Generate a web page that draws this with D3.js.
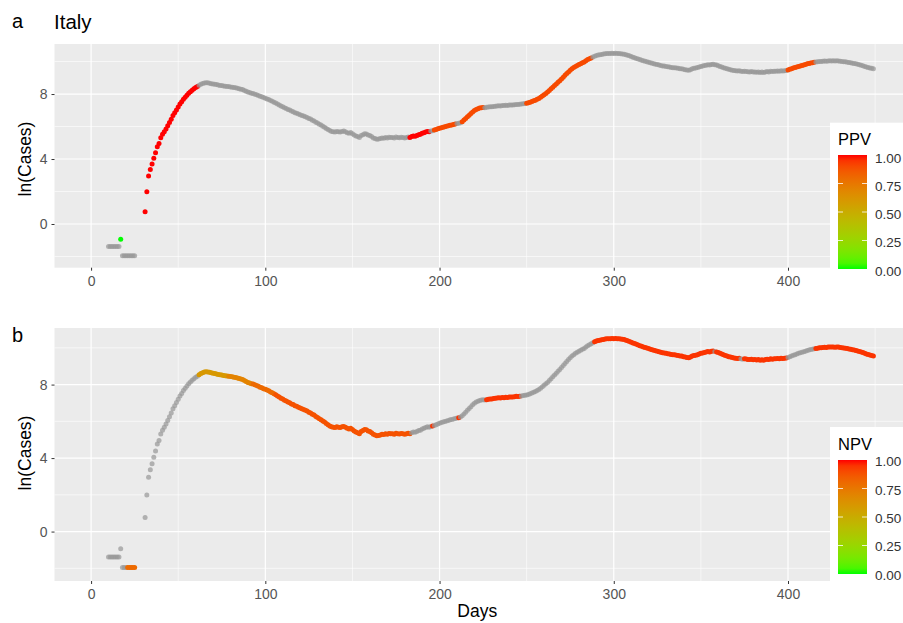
<!DOCTYPE html>
<html>
<head>
<meta charset="utf-8">
<script src="https://d3js.org/d3.v7.min.js"></script>
<style>
  body { margin: 0; background: #fff; }
  svg { font-family: "Liberation Sans", Arial, sans-serif; }
  .tick line { stroke: #333; }
  .tick text { fill: #555; font-size: 14px; }
  .domain { display: none; }
</style>
<title>Italy - ln(Cases) PPV / NPV</title>
</head>
<body>
<script>
// ln(Cases) per day, starting at day 10 (null = no point)
var startDay = 10;
var lnCases = [
  -1.39,-1.39,-1.39,-1.39,-1.39,-1.39,-1.39,-0.94,-1.95,-1.95,
  -1.95,-1.95,-1.95,-1.95,-1.95,-1.95,null,null,null,null,
  null,0.76,1.99,2.95,3.36,3.69,4.04,4.39,4.76,4.96,
  5.31,5.52,5.68,5.85,6.05,6.25,6.45,6.68,6.85,7.02,
  7.2,7.38,7.52,7.68,7.8,7.92,8.05,8.14,8.24,8.32,
  8.4,8.46,8.54,8.6,8.65,8.68,8.7,8.69,8.67,8.64,
  8.62,8.6,8.58,8.55,8.53,8.52,8.5,8.48,8.47,8.46,
  8.44,8.42,8.4,8.38,8.36,8.33,8.3,8.28,8.22,8.17,
  8.12,8.09,8.05,8.03,7.99,7.95,7.91,7.86,7.83,7.78,
  7.74,7.7,7.66,7.6,7.56,7.5,7.45,7.38,7.33,7.26,
  7.21,7.15,7.11,7.05,7.01,6.95,6.91,6.85,6.82,6.77,
  6.73,6.68,6.65,6.6,6.56,6.5,6.46,6.38,6.34,6.27,
  6.21,6.14,6.09,6.02,5.96,5.88,5.81,5.75,5.7,5.68,
  5.66,5.7,5.68,5.66,5.7,5.72,5.68,5.62,5.58,5.63,
  5.55,5.48,5.42,5.38,5.33,5.45,5.5,5.56,5.54,5.48,
  5.45,5.38,5.3,5.26,5.22,5.23,5.26,5.3,5.28,5.33,
  5.3,5.34,5.32,5.33,5.3,5.35,5.33,5.31,5.34,5.32,
  5.3,5.33,5.35,5.33,5.38,5.42,5.4,5.45,5.5,5.52,
  5.58,5.62,5.66,5.7,5.68,5.72,5.74,5.78,5.82,5.86,
  5.9,5.93,5.96,5.99,6.02,6.05,6.08,6.1,6.13,6.15,
  6.18,6.2,6.24,6.3,6.4,6.5,6.6,6.7,6.8,6.9,
  6.98,7.05,7.1,7.14,7.16,7.17,7.16,7.18,7.2,7.21,
  7.22,7.24,7.25,7.27,7.28,7.27,7.3,7.29,7.31,7.3,
  7.32,7.33,7.32,7.34,7.36,7.35,7.37,7.38,7.4,7.42,
  7.43,7.46,7.5,7.54,7.58,7.62,7.68,7.73,7.8,7.88,
  7.96,8.04,8.12,8.22,8.32,8.42,8.52,8.62,8.72,8.82,
  8.93,9.04,9.15,9.26,9.36,9.46,9.55,9.63,9.7,9.76,
  9.82,9.87,9.92,9.97,10.05,10.12,10.17,10.22,10.28,10.33,
  10.37,10.4,10.42,10.44,10.46,10.48,10.49,10.5,10.5,10.51,
  10.5,10.51,10.5,10.49,10.48,10.47,10.45,10.42,10.39,10.35,
  10.31,10.27,10.23,10.19,10.15,10.12,10.08,10.05,10.02,9.99,
  9.96,9.93,9.9,9.87,9.84,9.82,9.79,9.76,9.73,9.72,
  9.7,9.68,9.67,9.64,9.62,9.62,9.6,9.58,9.56,9.55,
  9.52,9.5,9.48,9.46,9.5,9.55,9.58,9.6,9.63,9.66,
  9.7,9.72,9.75,9.77,9.8,9.78,9.82,9.83,9.8,9.78,
  9.74,9.7,9.66,9.62,9.58,9.55,9.52,9.5,9.47,9.45,
  9.43,9.42,9.43,9.4,9.38,9.41,9.39,9.37,9.36,9.38,
  9.35,9.36,9.34,9.36,9.33,9.35,9.33,9.36,9.38,9.36,
  9.4,9.38,9.41,9.4,9.42,9.41,9.43,9.42,9.44,9.45,
  9.48,9.52,9.56,9.6,9.63,9.66,9.7,9.73,9.76,9.79,
  9.82,9.86,9.88,9.91,9.93,9.95,9.97,9.98,10.0,10.01,
  10.02,10.03,10.02,10.04,10.05,10.04,10.05,10.03,10.05,10.04,
  10.02,10.01,9.99,9.98,9.96,9.94,9.92,9.9,9.88,9.86,
  9.83,9.8,9.77,9.74,9.7,9.67,9.64,9.61,9.58,9.55
];

// [first day, last day, value]; days outside any run are NA (grey)
var ppvRuns = [
  [17, 17, 0.0], [31, 61, 1.0], [183, 194, 1.0], [197, 209, 0.9],
  [213, 225, 0.9], [250, 287, 0.9], [400, 415, 0.9]
];
var npvRuns = [
  [21, 25, 0.8], [62, 78, 0.6], [79, 92, 0.7], [93, 105, 0.8],
  [106, 183, 0.88], [196, 196, 0.95], [211, 211, 0.95], [227, 246, 0.95],
  [289, 357, 0.95], [359, 372, 0.95], [375, 399, 0.95], [416, 449, 0.95]
];

var xTicks = [0, 100, 200, 300, 400];
var xMinor = [50, 150, 250, 350, 450];
var yTicks = [0, 4, 8];
var yMinor = [-2, 2, 6, 10];
var legendTicks = [0, 0.25, 0.5, 0.75, 1];

var points = [];
lnCases.forEach(function(v, i) {
  if (v !== null) points.push({day: startDay + i, v: v});
});

function runValue(runs, day) {
  for (var i = 0; i < runs.length; i++) {
    if (day >= runs[i][0] && day <= runs[i][1]) return runs[i][2];
  }
  return null;
}

var W = 903, H = 623;
var svg = d3.select("body").append("svg").attr("width", W).attr("height", H);

var color = d3.scaleLinear().domain([0, 1]).range(["#00ff00", "#ff0000"])
  .interpolate(d3.interpolateLab);

var defs = svg.append("defs");
var grad = defs.append("linearGradient").attr("id", "cbar")
  .attr("x1", 0).attr("y1", 1).attr("x2", 0).attr("y2", 0);
d3.range(0, 1.0001, 0.05).forEach(function(t) {
  grad.append("stop").attr("offset", t).attr("stop-color", color(t));
});

var x = d3.scaleLinear().domain([-21, 466]).range([54.5, 903]);

var panels = [
  {label: "a", labelY: 28, top: 44, bottom: 267.7, runs: ppvRuns, name: "PPV",
   boxTop: 122.7, titleY: 145, barTop: 155, barBottom: 269, labTop: 158, labBottom: 271,
   xPad: 5, ytitle: 159},
  {label: "b", labelY: 342, top: 328, bottom: 581, runs: npvRuns, name: "NPV",
   boxTop: 427, titleY: 450, barTop: 460, barBottom: 574, labTop: 461.5, labBottom: 575,
   xPad: 5.5, ytitle: 453}
];

panels.forEach(function(p) {
  var y = d3.scaleLinear().domain([-2.69, 11.08]).range([p.bottom, p.top]);
  var g = svg.append("g");

  g.append("rect").attr("x", x.range()[0]).attr("y", p.top)
    .attr("width", x.range()[1] - x.range()[0]).attr("height", p.bottom - p.top)
    .attr("fill", "#ebebeb");

  g.selectAll(".ymin").data(yMinor).enter().append("line")
    .attr("x1", x.range()[0]).attr("x2", x.range()[1])
    .attr("y1", y).attr("y2", y).attr("stroke", "#fff").attr("stroke-width", 0.6);
  g.selectAll(".xmin").data(xMinor).enter().append("line")
    .attr("x1", x).attr("x2", x).attr("y1", p.top).attr("y2", p.bottom)
    .attr("stroke", "#fff").attr("stroke-width", 0.6);
  g.selectAll(".ymaj").data(yTicks).enter().append("line")
    .attr("x1", x.range()[0]).attr("x2", x.range()[1])
    .attr("y1", y).attr("y2", y).attr("stroke", "#fff").attr("stroke-width", 1.2);
  g.selectAll(".xmaj").data(xTicks).enter().append("line")
    .attr("x1", x).attr("x2", x).attr("y1", p.top).attr("y2", p.bottom)
    .attr("stroke", "#fff").attr("stroke-width", 1.2);

  g.append("g").attr("transform", "translate(" + x.range()[0] + ",0)")
    .call(d3.axisLeft(y).tickValues(yTicks).tickSize(3).tickPadding(4));
  g.append("g").attr("transform", "translate(0," + p.bottom + ")")
    .call(d3.axisBottom(x).tickValues(xTicks).tickSize(3).tickPadding(p.xPad));

  g.selectAll("circle").data(points).enter().append("circle")
    .attr("cx", function(d) { return x(d.day); })
    .attr("cy", function(d) { return y(d.v); })
    .attr("r", 2.5)
    .attr("fill", function(d) {
      var c = runValue(p.runs, d.day);
      return c === null ? "#999" : color(c);
    })
    .attr("fill-opacity", function(d) {
      return runValue(p.runs, d.day) === null ? 0.72 : 1;
    });

  g.append("text").attr("transform", "translate(31," + p.ytitle + ") rotate(-90)")
    .attr("text-anchor", "middle").attr("font-size", 17.5).attr("fill", "#000")
    .text("ln(Cases)");

  g.append("text").attr("x", 12).attr("y", p.labelY).attr("font-size", 20)
    .attr("fill", "#000").text(p.label);

  // legend
  var lg = g.append("g");
  lg.append("rect").attr("x", 830).attr("y", p.boxTop).attr("width", 80)
    .attr("height", p.bottom + 22 - p.boxTop).attr("fill", "#fff");
  lg.append("text").attr("x", 838).attr("y", p.titleY).attr("font-size", 16.5)
    .attr("fill", "#000").text(p.name);
  lg.append("rect").attr("x", 838).attr("y", p.barTop).attr("width", 29)
    .attr("height", p.barBottom - p.barTop).attr("fill", "url(#cbar)");
  var ly = d3.scaleLinear().domain([0, 1]).range([p.labBottom, p.labTop]);
  var by = d3.scaleLinear().domain([0, 1]).range([p.barBottom, p.barTop]);
  [0.25, 0.5, 0.75].forEach(function(t) {
    lg.append("line").attr("x1", 838).attr("x2", 843).attr("y1", by(t)).attr("y2", by(t))
      .attr("stroke", "#fff").attr("stroke-opacity", 0.8);
    lg.append("line").attr("x1", 862).attr("x2", 867).attr("y1", by(t)).attr("y2", by(t))
      .attr("stroke", "#fff").attr("stroke-opacity", 0.8);
  });
  lg.selectAll(".lab").data(legendTicks).enter().append("text")
    .attr("x", 875).attr("y", ly).attr("dy", "0.35em").attr("font-size", 13.5)
    .attr("fill", "#333").text(function(d) { return d3.format(".2f")(d); });
});

svg.append("text").attr("x", 54).attr("y", 29).attr("font-size", 20.5)
  .attr("fill", "#000").text("Italy");

svg.append("text").attr("x", (x.range()[0] + 900) / 2).attr("y", 617)
  .attr("text-anchor", "middle").attr("font-size", 17.5).attr("fill", "#000").text("Days");
</script>
</body>
</html>
